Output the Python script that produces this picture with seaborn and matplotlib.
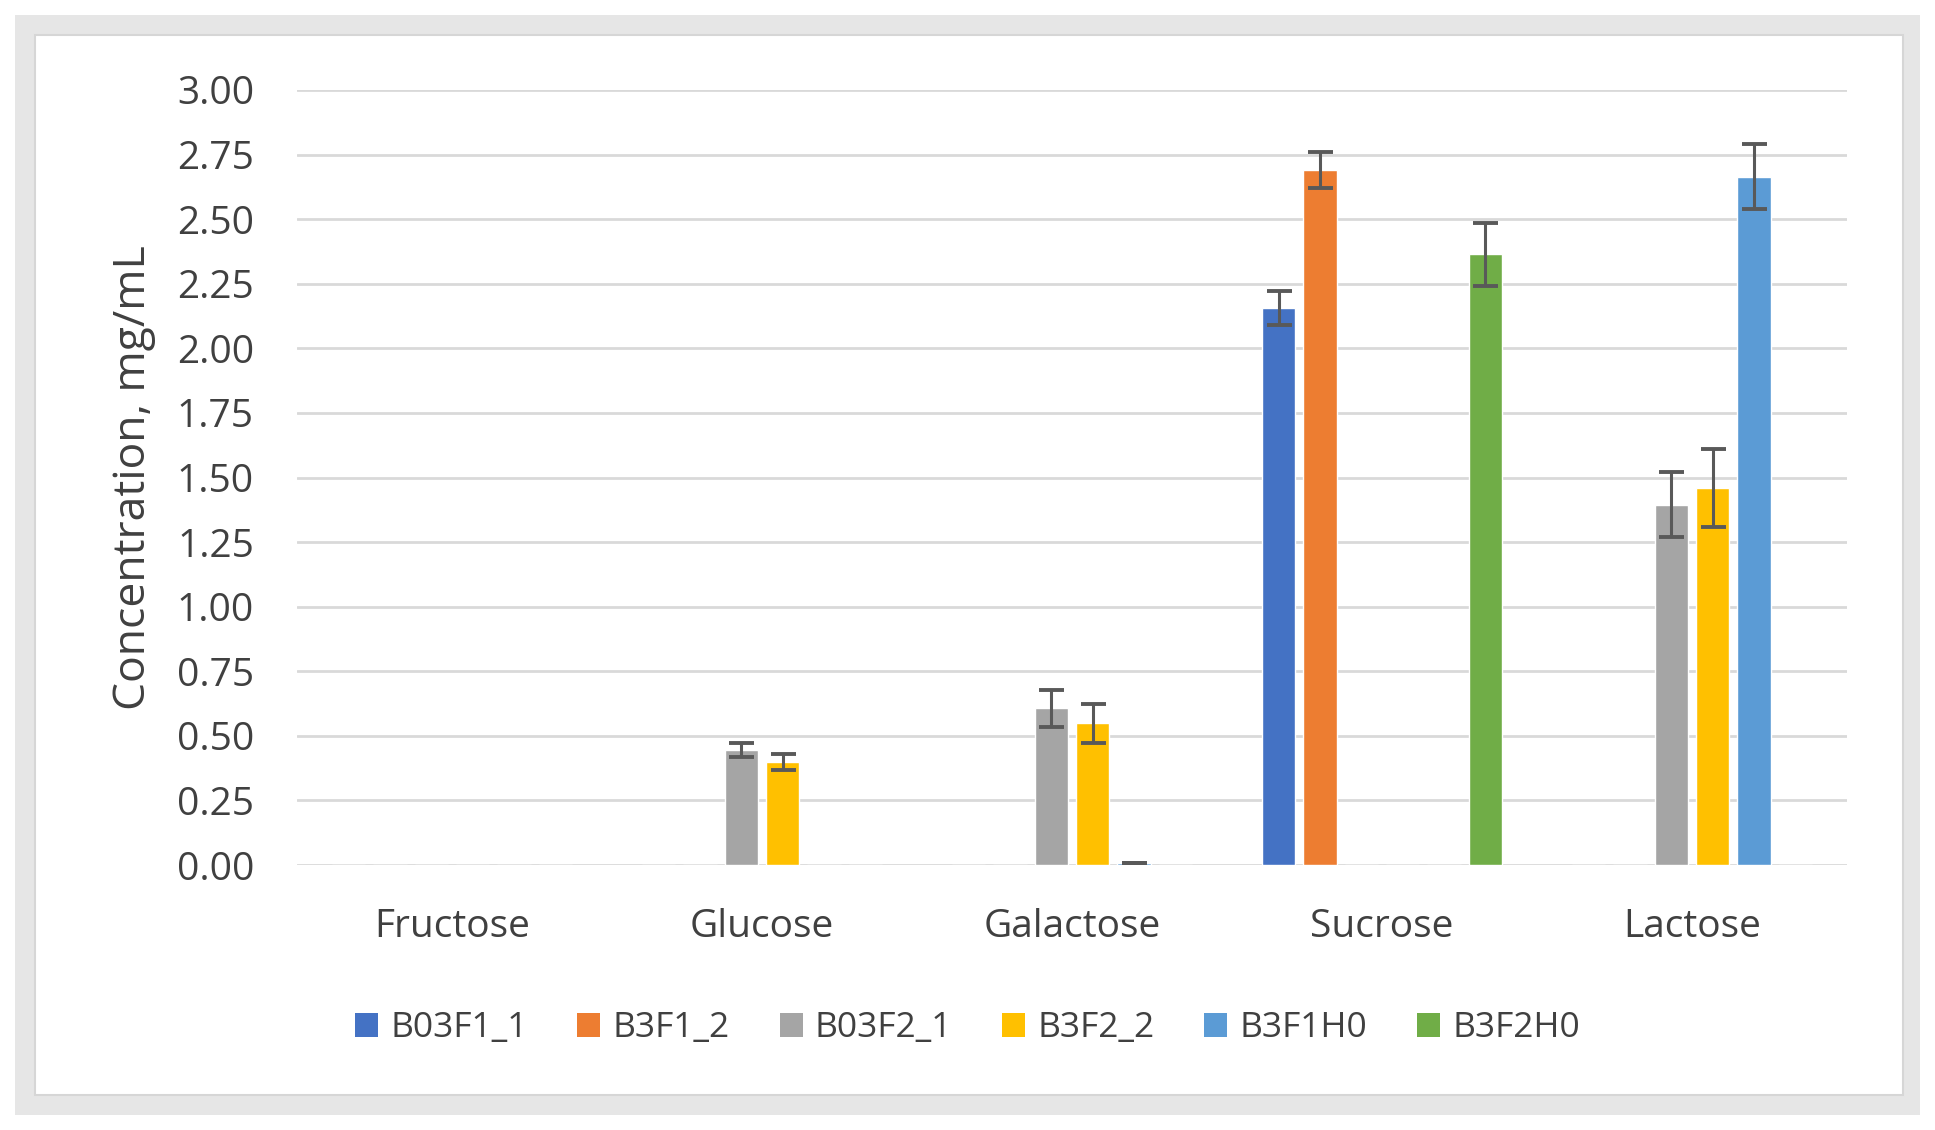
import numpy as np
import pandas as pd
import seaborn as sns
import matplotlib
matplotlib.use("Agg")
import matplotlib.pyplot as plt
from matplotlib.patches import Rectangle, Patch

categories = ["Fructose", "Glucose", "Galactose", "Sucrose", "Lactose"]
series = ["B03F1_1", "B3F1_2", "B03F2_1", "B3F2_2", "B3F1H0", "B3F2H0"]
colors = ["#4472C4", "#ED7D31", "#A5A5A5", "#FFC000", "#5B9BD5", "#70AD47"]

# values per series (order of categories)
B03F1_1 = [0.0, 0.0, 0.0, 2.155, 0.0]
B3F1_2 = [0.0, 0.0, 0.0, 2.69, 0.0]
B03F2_1 = [0.0, 0.444, 0.606, 0.0, 1.395]
B3F2_2 = [0.0, 0.398, 0.548, 0.0, 1.46]
B3F1H0 = [0.0, 0.0, 0.008, 0.0, 2.665]
B3F2H0 = [0.0, 0.0, 0.0, 2.365, 0.0]

err_B03F1_1 = [0.0, 0.0, 0.0, 0.066, 0.0]
err_B3F1_2 = [0.0, 0.0, 0.0, 0.07, 0.0]
err_B03F2_1 = [0.0, 0.027, 0.07, 0.0, 0.125]
err_B3F2_2 = [0.0, 0.03, 0.074, 0.0, 0.15]
err_B3F1H0 = [0.0, 0.0, 0.0, 0.0, 0.125]
err_B3F2H0 = [0.0, 0.0, 0.0, 0.122, 0.0]

yticks = [0.0, 0.25, 0.5, 0.75, 1.0, 1.25, 1.5, 1.75, 2.0, 2.25, 2.5, 2.75, 3.0]

values = [B03F1_1, B3F1_2, B03F2_1, B3F2_2, B3F1H0, B3F2H0]
errors = [err_B03F1_1, err_B3F1_2, err_B03F2_1, err_B3F2_2, err_B3F1H0, err_B3F2H0]

rows = []
for s, vals, errs in zip(series, values, errors):
    for c, v, e in zip(categories, vals, errs):
        rows.append({"Sugar": c, "Sample": s, "Conc": v, "Err": e})
df = pd.DataFrame(rows)

sns.set_theme(style="white")
plt.rcParams["font.family"] = ["Open Sans", "DejaVu Sans"]

W, H = 1935, 1130
fig = plt.figure(figsize=(W / 100, H / 100), dpi=100)

# frame
fig.add_artist(Rectangle((15 / W, 1 - 1115 / H), (1920 - 15) / W, (1115 - 15) / H,
                         transform=fig.transFigure, facecolor="#e6e6e6", edgecolor="none", zorder=-10))
fig.add_artist(Rectangle((35 / W, 1 - 1095 / H), (1903 - 35) / W, (1095 - 35) / H,
                         transform=fig.transFigure, facecolor="white", edgecolor="#d6d6d6",
                         linewidth=1.5, zorder=-9))

ax = fig.add_axes([297 / W, 1 - 865 / H, (1847 - 297) / W, (865 - 90) / H])
ax.set_facecolor("none")

pal = dict(zip(series, colors))
sns.barplot(data=df, x="Sugar", y="Conc", hue="Sample", hue_order=series, order=categories,
            palette=pal, errorbar=None, width=0.8, gap=0.2, ax=ax, legend=False,
            saturation=1, zorder=3)

# error bars at bar centers taken from the library's bars
for cont, s in zip(ax.containers, series):
    sub = df[df["Sample"] == s].set_index("Sugar").loc[categories]
    xs = [p.get_x() + p.get_width() / 2 for p in cont.patches]
    ys = sub["Conc"].values
    es = sub["Err"].values
    mask = (es > 0) | (ys > 0)
    xs = np.array(xs)[mask]
    ax.errorbar(xs, ys[mask], yerr=es[mask], fmt="none", ecolor="#595959",
                elinewidth=2.2, capsize=9, capthick=2.8, zorder=4)

ax.set_ylim(0, 3.0)
ax.set_xlim(-0.5, 4.5)
ax.set_yticks(yticks)
ax.set_yticklabels([f"{t:.2f}" for t in yticks])
ax.yaxis.grid(True, color="#d9d9d9", linewidth=2.0, zorder=0)
ax.set_axisbelow(True)
for sp in ax.spines.values():
    sp.set_visible(False)
ax.tick_params(axis="y", length=0, pad=31, labelsize=28, labelcolor="#404040")
ax.tick_params(axis="x", length=0, pad=31, labelsize=28, labelcolor="#404040")
ax.set_xlabel("")
ax.set_ylabel("Concentration, mg/mL", fontsize=32, color="#404040")
ax.yaxis.set_label_coords(-0.091, 0.5)

handles = [Patch(facecolor=c, edgecolor="none") for c in colors]
fig.legend(handles, series, loc="center", bbox_to_anchor=(0.5, 0.09), ncol=6,
           frameon=False, fontsize=25.5, labelcolor="#404040", handlelength=0.65,
           handleheight=0.65, handletextpad=0.35, columnspacing=1.4)

fig.savefig("out.png", dpi=100)
